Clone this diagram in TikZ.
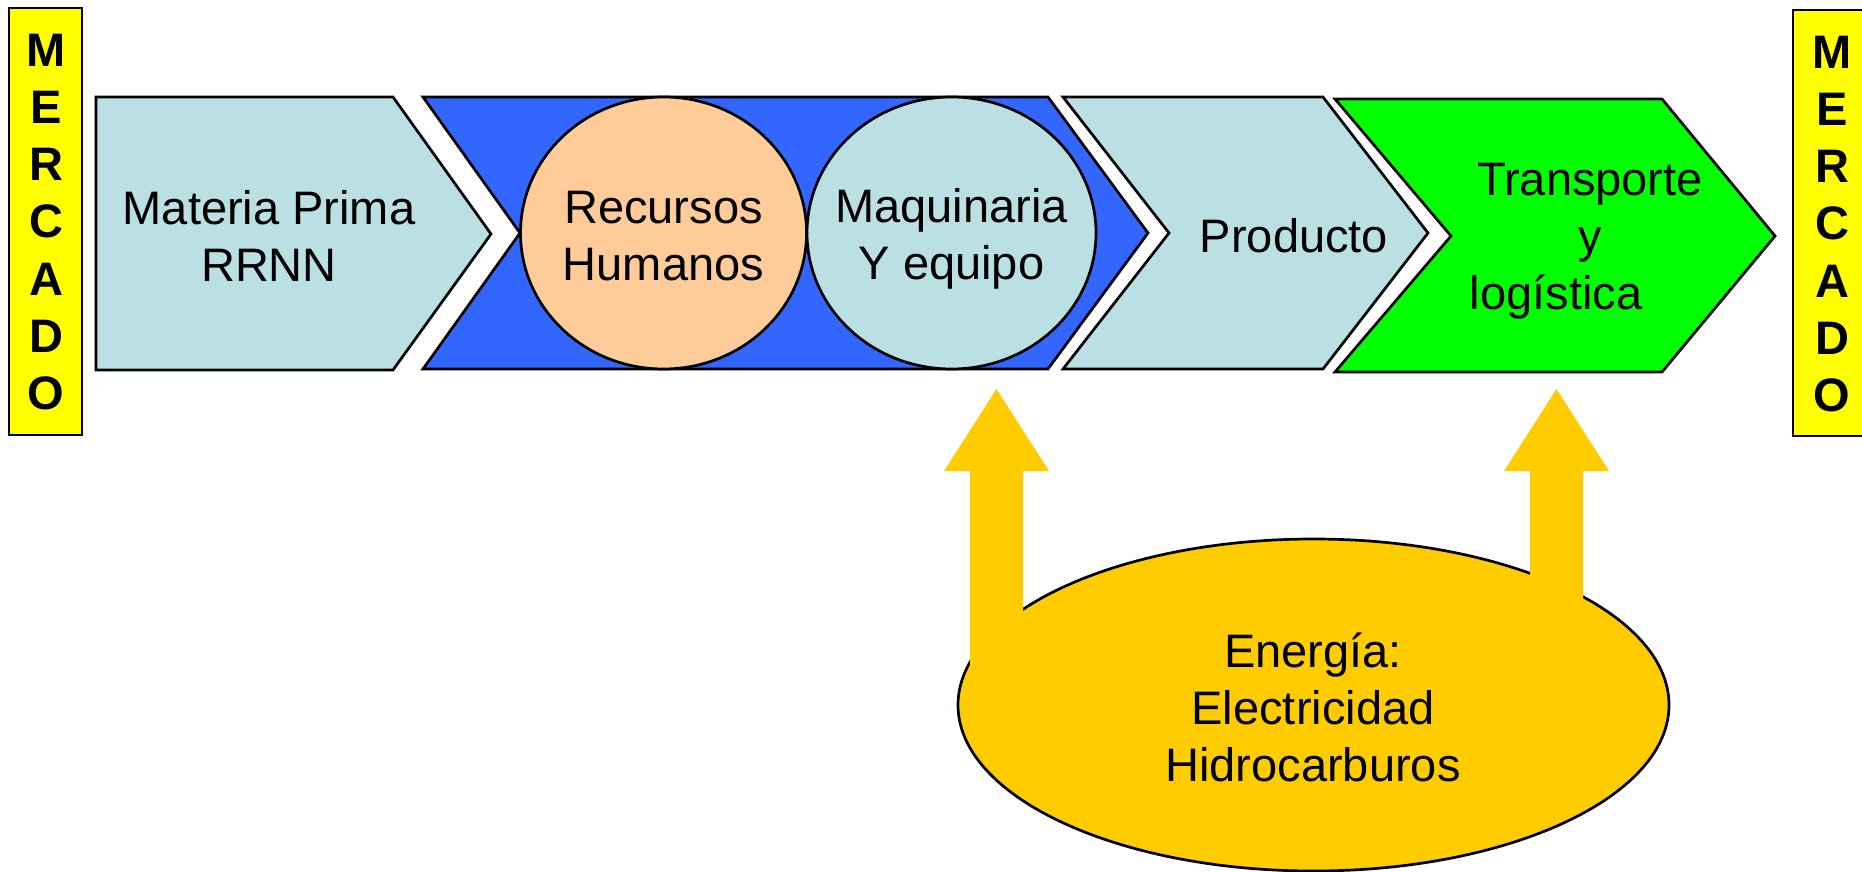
\documentclass[tikz,border=0pt]{standalone}
\usepackage{fontspec}
\setmainfont{Liberation Sans}
\definecolor{chev}{RGB}{187,224,227}
\definecolor{bluech}{RGB}{51,102,255}
\definecolor{peach}{RGB}{255,204,153}
\definecolor{greench}{RGB}{0,255,0}
\definecolor{mercy}{RGB}{255,255,0}
\definecolor{energ}{RGB}{255,204,0}
\begin{document}
\begin{tikzpicture}[x=1pt,y=-1pt,
  shapeline/.style={draw=black,line width=2.7pt,line join=miter},
  lbl/.style={font=\fontsize{47}{57}\selectfont,align=center,inner sep=0pt,anchor=base},
  mlbl/.style={font=\fontsize{47}{57.3}\selectfont\bfseries,align=center,inner sep=0pt,anchor=base},
  energyarrow/.style={fill=energ,draw=none}]
\useasboundingbox (0,0) rectangle (1862,872);
\fill[white] (0,0) rectangle (1862,872);

% MERCADO boxes
\draw[shapeline,fill=mercy] (9,8) rectangle (82,435);
\draw[shapeline,fill=mercy] (1793,10) rectangle (1870,436);
\node[mlbl] (mercL) at (46,409.8) {M\\E\\R\\C\\A\\D\\O};
\node[mlbl] (mercR) at (1832,411.8) {M\\E\\R\\C\\A\\D\\O};

% chevrons
\draw[shapeline,fill=chev] (96,97) -- (393,97) -- (491,234) -- (393,370) -- (96,370) -- cycle;
\draw[shapeline,fill=bluech] (423,97) -- (1048,97) -- (1148,233) -- (1048,369) -- (423,369) -- (520,233) -- cycle;
\draw[shapeline,fill=chev] (1063,97) -- (1323,97) -- (1428,233) -- (1323,369) -- (1063,369) -- (1169,233) -- cycle;
\draw[shapeline,fill=greench] (1335,99) -- (1662,99) -- (1775,236) -- (1662,372) -- (1335,372) -- (1451,236) -- cycle;

% circles in the blue chevron
\draw[shapeline,fill=peach] (663.5,233) ellipse [x radius=143pt, y radius=136pt];
\draw[shapeline,fill=chev] (951.5,233) ellipse [x radius=144.5pt, y radius=136pt];

% energy ellipse
\draw[shapeline,fill=energ] (1313.5,705) ellipse [x radius=355.5pt, y radius=166pt];

% block arrows
\fill[energyarrow] (970,700) -- (970,471) -- (944,471) -- (996.5,389) -- (1049,471) -- (1023,471) -- (1023,700) -- cycle;
\fill[energyarrow] (1530,690) -- (1530,471) -- (1504,471) -- (1556.5,389) -- (1609,471) -- (1583,471) -- (1583,690) -- cycle;

% labels (base anchor = baseline of the last line)
\node[lbl] (mp) at (269,281) {Materia Prima\\RRNN};
\node[lbl] (rh) at (663.5,280) {Recursos\\Humanos};
\node[lbl] (mq) at (951.5,279) {Maquinaria\\Y equipo};
\node[lbl] (prod) at (1294,252) {Producto};
\node[lbl] (tl) at (1590,309) {Transporte\\y\hspace*{82pt}\\log\'{\i}stica\hspace*{68pt}};
\node[lbl] (en) at (1313,781) {Energ\'{\i}a:\\Electricidad\\Hidrocarburos};
\end{tikzpicture}
\end{document}
